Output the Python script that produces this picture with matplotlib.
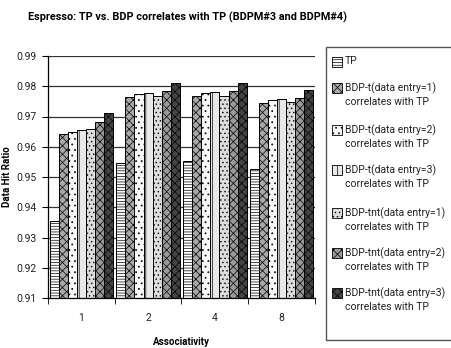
import numpy as np
import matplotlib
matplotlib.use("Agg")
import matplotlib.pyplot as plt
from matplotlib.patches import Rectangle

# Données : taux de succès cache (Espresso)
associativity = ["1", "2", "4", "8"]
series_names = [
    "TP",
    "BDP-t(data entry=1)\ncorrelates with TP",
    "BDP-t(data entry=2)\ncorrelates with TP",
    "BDP-t(data entry=3)\ncorrelates with TP",
    "BDP-tnt(data entry=1)\ncorrelates with TP",
    "BDP-tnt(data entry=2)\ncorrelates with TP",
    "BDP-tnt(data entry=3)\ncorrelates with TP",
]
tp = [0.9356, 0.9546, 0.9552, 0.9527]
bdp_t1 = [0.9642, 0.9764, 0.9767, 0.9745]
bdp_t2 = [0.9649, 0.9774, 0.9777, 0.9755]
bdp_t3 = [0.9655, 0.9777, 0.9780, 0.9758]
bdp_tnt1 = [0.9658, 0.9768, 0.9769, 0.9747]
bdp_tnt2 = [0.9681, 0.9784, 0.9784, 0.9761]
bdp_tnt3 = [0.9711, 0.9810, 0.9810, 0.9787]
all_series = [tp, bdp_t1, bdp_t2, bdp_t3, bdp_tnt1, bdp_tnt2, bdp_tnt3]

# Motifs noir et blanc (style Excel)
_STYLES = [
    ("white", "------"),
    ("#a8a8a8", "xxxx"),
    ("#f8f8f8", "..."),
    ("#e8e8e8", "||"),
    ("#dcdcdc", "...."),
    ("#9a9a9a", "xxxx"),
    ("#444444", "xxxx"),
]

plt.rcParams["font.family"] = ["Roboto", "DejaVu Sans"]
plt.rcParams["hatch.linewidth"] = 0.5

fig = plt.figure(figsize=(4.52, 3.48), dpi=100)
ax = fig.add_axes([48 / 452, 1 - 298 / 348, 267 / 452, 242 / 348])

x = np.arange(len(associativity))
n = len(all_series)
w = 0.955 / n
for i, vals in enumerate(all_series):
    face, hatch = _STYLES[i]
    ax.bar(x + (i - (n - 1) / 2) * w, vals, width=w, bottom=0,
           color=face, edgecolor="black", hatch=hatch, lw=0.7, zorder=2)

ax.set_xlim(-0.5, len(associativity) - 0.5)
ax.set_ylim(0.91, 0.99)
yt = np.arange(0.91, 0.9901, 0.01)
ax.set_yticks(yt)
ax.set_yticklabels([f"{v:.2f}" for v in yt], fontsize=7.5, color="#222222")
ax.yaxis.grid(True, color="#333333", lw=0.9, zorder=0)
ax.set_axisbelow(True)

ax.set_xticks(x)
ax.set_xticklabels(associativity, fontsize=7.5, color="#222222")
ax.tick_params(axis="x", length=0, pad=11)
ax.set_xticks(np.arange(-0.5, len(associativity)), minor=True)
ax.tick_params(axis="x", which="minor", length=4, direction="out")
ax.tick_params(axis="y", length=4, pad=4)

for s in ["top", "right"]:
    ax.spines[s].set_visible(False)
ax.spines["left"].set_linewidth(0.9)
ax.spines["bottom"].set_linewidth(0.9)

ax.set_xlabel("Associativity", fontsize=7, fontweight="bold", labelpad=10)
ax.set_ylabel("Data Hit Ratio", fontsize=7, fontweight="bold")
ax.yaxis.set_label_coords(-36 / 267, 0.5)

fig.text(28 / 452, 1 - 17 / 348, "Espresso: TP vs. BDP correlates with TP (BDPM#3 and BDPM#4)",
         fontsize=7.8, fontweight="bold", va="center", ha="left")

# Légende dessinée à la main (carré aligné sur la première ligne)
fig.patches.append(Rectangle((326 / 452, 1 - 340 / 348), 130 / 452, 293 / 348,
                             transform=fig.transFigure, facecolor="white",
                             edgecolor="#555555", lw=1.0))
entry_y = [62, 88, 130, 170, 213, 253, 293]
for i, name in enumerate(series_names):
    face, hatch = _STYLES[i]
    yc = 1 - entry_y[i] / 348
    fig.patches.append(Rectangle((332 / 452, yc - 5 / 348), 10 / 452, 10 / 348,
                                 transform=fig.transFigure, facecolor=face,
                                 edgecolor="black", hatch=hatch, lw=0.6))
    fig.text(345 / 452, yc + 6 / 348, name, fontsize=7.5, va="top", ha="left",
             linespacing=1.45, color="#222222")

fig.savefig("out.png", dpi=100)
